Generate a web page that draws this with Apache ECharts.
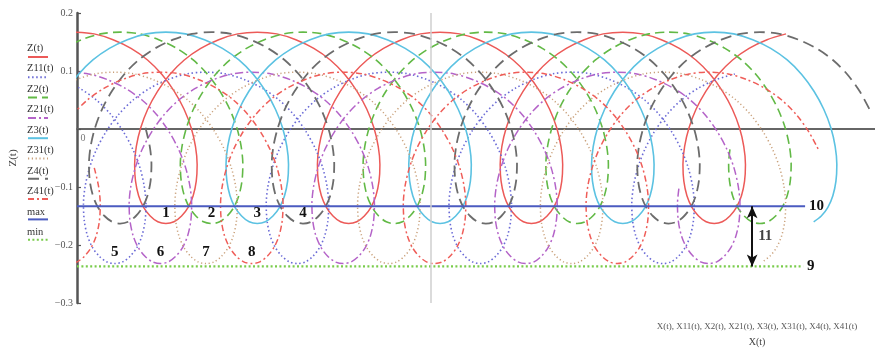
<!DOCTYPE html>
<html>
<head>
<meta charset="utf-8">
<script src="https://cdn.jsdelivr.net/npm/echarts@6/dist/echarts.min.js"></script>
<style>
  html, body { margin: 0; padding: 0; background: #ffffff; }
  #chart { width: 875px; height: 356px; }
</style>
</head>
<body>
<div id="chart"></div>
<script>
// Cutting-edge paths Z(t) against X(t): eight edges traced over the same time span.
const curveNames = ['Z(t)', 'Z11(t)', 'Z2(t)', 'Z21(t)', 'Z3(t)', 'Z31(t)', 'Z4(t)', 'Z41(t)'];

// One turn of an edge in 32 equal steps, starting at the top of the arc:
// horizontal offset from that top, and the height for the outer and inner edge families.
const turnDx = [0, 19.6, 38.6, 56.6, 73.1, 87.6, 99.9, 109.7, 116.8, 121.1, 122.8, 121.9,
  118.8, 113.8, 107.2, 99.6, 91.5, 83.4, 75.8, 69.2, 64.2, 61.1, 60.2, 61.9,
  66.3, 73.3, 83.1, 95.4, 109.9, 126.4, 144.4, 163.4];
const outerZ = [0.167, 0.164, 0.154, 0.139, 0.119, 0.094, 0.065, 0.034, 0.002, -0.030, -0.061, -0.090,
  -0.115, -0.135, -0.150, -0.160, -0.163, -0.160, -0.150, -0.135, -0.115, -0.090, -0.061, -0.030,
  0.002, 0.034, 0.065, 0.094, 0.119, 0.139, 0.154, 0.164];
const innerZ = [0.098, 0.095, 0.085, 0.070, 0.050, 0.025, -0.004, -0.035, -0.067, -0.099, -0.130, -0.159,
  -0.184, -0.204, -0.219, -0.229, -0.232, -0.229, -0.219, -0.204, -0.184, -0.159, -0.130, -0.099,
  -0.067, -0.035, -0.004, 0.025, 0.050, 0.070, 0.085, 0.095];
const turnPitch = 183;   // X advance per turn
const turnSteps = 32;
const traceSteps = 127;  // steps covered by every edge

// Per edge: X of its first arc top, the step where its trace begins, and its family.
const firstTopX = [-2.5, -53.75, -139.75, -191, -94, -145.25, -48.25, -99.5];
const startStep = [0, 0, 24, 24, 16, 16, 8, 8];
const edgeFamily = ['outer', 'inner', 'outer', 'inner', 'outer', 'inner', 'outer', 'inner'];

// Numbered loops: tag and the turn whose loop carries it.
const loopTag = ['1', '5', '2', '6', '3', '7', '4', '8'];
const loopTurn = [0, 0, 1, 1, 1, 1, 1, 1];

// Limit lines and the marked distance between them.
const limitNames = ['max', 'min'];
const limitZ = [-0.133, -0.237];
const limitEndX = [729, 727];
const limitTag = ['10', '9'];
const gapX = 676;
const gapTag = '11';

// Axes.
const xRange = [0, 799];
const zRange = [-0.3, 0.2];
const zStep = 0.1;
const originTag = '0';
const guideX = 354;
const xTitle = 'X(t), X11(t), X2(t), X21(t), X3(t), X31(t), X4(t), X41(t)';
const xSubTitle = 'X(t)';
const zTitle = 'Z(t)';

const serif = '"Liberation Serif", "DejaVu Serif", serif';

const curveStyles = [
  { color: '#ec5a58', type: 'solid', width: 1.5 },
  { color: '#6a6ad6', type: [1.5, 2.6], width: 1.6 },
  { color: '#62b946', type: [9, 5], width: 1.6 },
  { color: '#b463c8', type: [8, 3, 2, 3], width: 1.5 },
  { color: '#5cc2e2', type: 'solid', width: 1.6 },
  { color: '#c9a07a', type: [1.2, 2.6], width: 1.5 },
  { color: '#6c6c6c', type: [11, 6], width: 1.8 },
  { color: '#ef5d58', type: [6, 3, 2, 3], width: 1.5 }
];
const limitStyles = [
  { color: '#4b5bc0', type: 'solid', width: 2 },
  { color: '#79cc4b', type: [2, 2.4], width: 2.2 }
];

function tracePath(i) {
  const zs = edgeFamily[i] === 'outer' ? outerZ : innerZ;
  const pts = [];
  for (let j = startStep[i]; j <= startStep[i] + traceSteps; j++) {
    const turn = Math.floor(j / turnSteps);
    const k = j % turnSteps;
    pts.push([firstTopX[i] + turn * turnPitch + turnDx[k], zs[k]]);
  }
  return pts;
}

const paths = curveNames.map((_, i) => tracePath(i));

const tagLabel = {
  show: true,
  position: 'inside',
  color: '#111',
  fontFamily: serif,
  fontWeight: 'bold',
  fontSize: 15
};

const curveSeries = curveNames.map((name, i) => {
  const bottomIndex = loopTurn[i] * turnSteps + turnSteps / 2 - startStep[i];
  const lift = edgeFamily[i] === 'outer' ? -10 : -11;
  return {
    name: name,
    type: 'line',
    data: paths[i],
    symbol: 'none',
    showSymbol: false,
    smooth: 0.3,
    clip: true,
    lineStyle: curveStyles[i],
    itemStyle: { color: curveStyles[i].color },
    emphasis: { disabled: true },
    markPoint: {
      silent: true,
      symbol: 'circle',
      symbolSize: 1,
      itemStyle: { color: 'rgba(0,0,0,0)' },
      label: Object.assign({ formatter: loopTag[i], offset: [0, lift] }, tagLabel),
      data: [{ coord: paths[i][bottomIndex] }]
    }
  };
});

const limitSeries = limitNames.map((name, i) => {
  const s = {
    name: name,
    type: 'line',
    data: [[xRange[0], limitZ[i]], [limitEndX[i], limitZ[i]]],
    symbol: 'none',
    showSymbol: false,
    lineStyle: limitStyles[i],
    itemStyle: { color: limitStyles[i].color },
    emphasis: { disabled: true },
    endLabel: {
      show: true,
      formatter: limitTag[i],
      distance: 4,
      color: '#111',
      fontFamily: serif,
      fontWeight: 'bold',
      fontSize: 15
    }
  };
  if (i === 0) {
    s.markLine = {
      silent: true,
      symbol: ['none', 'none'],
      label: { show: false },
      lineStyle: { color: '#cfcfcf', width: 1.5, type: 'solid' },
      data: [{ xAxis: guideX }]
    };
  } else {
    s.markLine = {
      silent: true,
      symbol: ['arrow', 'arrow'],
      symbolSize: [8, 12],
      label: { show: false },
      lineStyle: { color: '#111', width: 2, type: 'solid' },
      data: [[{ coord: [gapX, limitZ[1]] }, { coord: [gapX, limitZ[0]] }]]
    };
  }
  return s;
});

const noteLabel = {
  show: true,
  color: '#111',
  fontFamily: serif,
  fontWeight: 'bold',
  fontSize: 15
};

const noteSeries = {
  name: 'notes',
  type: 'scatter',
  symbolSize: 0,
  silent: true,
  data: [
    {
      value: [gapX, (limitZ[0] + limitZ[1]) / 2],
      label: Object.assign({}, noteLabel, { position: 'right', distance: 6, formatter: gapTag })
    },
    {
      value: [xRange[0], 0],
      label: {
        show: true, position: 'inside', offset: [6, 9], formatter: originTag,
        color: '#555', fontFamily: serif, fontSize: 10
      }
    }
  ]
};

const legendNames = curveNames.concat(limitNames);

const chart = echarts.init(document.getElementById('chart'), null, { renderer: 'canvas' });
chart.setOption({
  animation: false,
  backgroundColor: '#ffffff',
  title: {
    text: xTitle,
    subtext: xSubTitle,
    left: 752,
    top: 317,
    textAlign: 'center',
    itemGap: 6,
    textStyle: { fontSize: 9, fontWeight: 'normal', color: '#555', fontFamily: serif },
    subtextStyle: { fontSize: 10, color: '#444', fontFamily: serif }
  },
  legend: [
    {
      // line samples
      orient: 'vertical',
      left: 22,
      top: 47,
      padding: 5,
      itemWidth: 20,
      itemHeight: 10,
      itemGap: 11.3,
      data: legendNames,
      formatter: () => '',
      textStyle: { fontSize: 6 },
      itemStyle: { opacity: 0 },
      selectedMode: false
    },
    {
      // names above the samples
      orient: 'vertical',
      left: 16,
      top: 37,
      padding: 5,
      icon: 'none',
      itemWidth: 1,
      itemHeight: 12,
      itemGap: 9,
      data: legendNames,
      textStyle: { fontSize: 10.5, color: '#333', fontFamily: serif },
      selectedMode: false
    }
  ],
  grid: { left: 76, right: 0, top: 13, bottom: 53, containLabel: false },
  xAxis: {
    type: 'value',
    min: xRange[0],
    max: xRange[1],
    axisLine: { show: true, onZero: true, lineStyle: { color: '#666', width: 2 } },
    axisTick: { show: false },
    splitLine: { show: false },
    axisLabel: { show: false }
  },
  yAxis: {
    type: 'value',
    min: zRange[0],
    max: zRange[1],
    interval: zStep,
    name: zTitle,
    nameLocation: 'middle',
    nameGap: 58,
    nameRotate: 90,
    nameTextStyle: { fontSize: 11, color: '#444', fontFamily: serif },
    axisLine: { show: true, onZero: false, lineStyle: { color: '#555', width: 2.5 } },
    axisTick: { show: true, inside: true, length: 4, lineStyle: { color: '#555', width: 1.2 } },
    splitLine: { show: false },
    axisLabel: {
      formatter: v => (Math.abs(v) < 1e-9 ? '' : (v < 0 ? '\u2212' : '') + Math.abs(v).toFixed(1)),
      margin: 4,
      color: '#555',
      fontFamily: serif,
      fontSize: 10
    }
  },
  series: curveSeries.concat(limitSeries, [noteSeries])
});
</script>
</body>
</html>
